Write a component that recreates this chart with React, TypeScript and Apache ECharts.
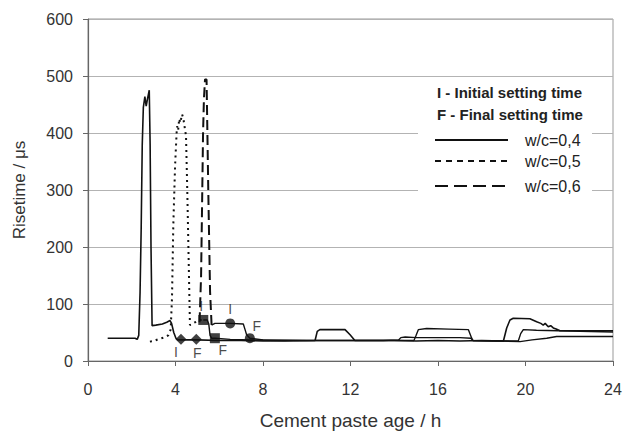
import React, { useEffect, useRef } from "react";
import * as echarts from "echarts";

// Risetime (µs) vs cement paste age (h)
const wc04: number[][] = [
  [0.9, 40], [1.5, 40], [2.15, 40], [2.25, 38], [2.32, 45], [2.38, 120], [2.43, 230], [2.48, 380],
  [2.53, 445], [2.6, 464], [2.66, 447], [2.72, 460], [2.8, 475], [2.84, 380], [2.88, 200], [2.93, 62],
  [3.1, 63], [3.4, 65], [3.6, 68], [3.75, 71], [3.82, 66], [3.92, 50], [4.02, 40], [4.1, 37],
  [4.5, 37], [5.0, 37], [6, 36], [7, 36], [8, 35], [9, 35], [10.38, 36], [10.48, 52], [10.6, 55],
  [11.75, 55], [11.98, 46], [12.2, 36], [13, 36], [14, 36], [15, 35], [16, 36], [17, 35], [18, 36],
  [18.99, 35], [19.14, 58], [19.29, 72], [19.44, 75], [20.2, 74], [20.51, 69], [20.7, 66], [20.81, 63],
  [20.9, 66], [21.04, 60], [21.15, 62], [21.27, 58], [21.4, 56], [21.58, 53], [21.88, 53], [24, 53],
];
const wc05Peak: number[][] = [
  [2.83, 34], [3.0, 35], [3.2, 38], [3.45, 41], [3.67, 45], [3.78, 55], [3.84, 110], [3.9, 238],
  [3.98, 342], [4.05, 400], [4.08, 412], [4.12, 405], [4.17, 425], [4.22, 418], [4.3, 433], [4.36, 425],
  [4.42, 410], [4.48, 395], [4.54, 296], [4.6, 180], [4.66, 63], [4.8, 66], [4.95, 69], [5.1, 72], [5.27, 72],
];
const wc05Tail: number[][] = [
  [5.27, 72], [5.45, 72], [5.52, 65], [5.58, 45], [5.65, 40], [5.8, 40], [6.5, 38], [7.5, 37], [9, 36],
  [12, 36], [13.5, 36], [14.2, 37], [14.3, 41], [14.5, 42], [15, 41], [16, 41], [17, 41], [17.5, 40],
  [17.6, 36], [18.5, 35], [19.67, 35], [19.78, 48], [19.9, 55], [20.5, 54], [21.5, 53], [24, 51],
];
const wc06Peak: number[][] = [
  [5.1, 68], [5.17, 150], [5.21, 260], [5.26, 400], [5.3, 460], [5.35, 494], [5.42, 494], [5.5, 296],
  [5.58, 122], [5.65, 63],
];
const wc06Tail: number[][] = [
  [5.65, 63], [5.8, 66], [6.5, 66], [7.1, 65], [7.18, 55], [7.25, 46], [7.4, 40], [8, 37], [10, 36],
  [13, 36], [14.9, 36], [15.0, 45], [15.1, 55], [15.48, 57], [16.5, 56], [17.39, 55], [17.54, 40],
  [17.6, 36], [19.0, 35], [19.75, 34], [20.3, 37], [20.97, 40], [21.42, 43], [24, 43],
];
// setting-time markers: [age, risetime], label
const diamondMarks = [{ name: "I", value: [4.25, 38] }, { name: "F", value: [4.95, 38] }];
const squareMarks = [{ name: "I", value: [5.27, 72] }, { name: "F", value: [5.8, 40] }];
const circleMarks = [{ name: "I", value: [6.5, 66] }, { name: "F", value: [7.4, 40] }];
const diamondOffsets = [[-5, 13], [1, 14]];
const squareOffsets = [[-2, -14], [8, 12]];
const circleOffsets = [[0, -14], [7, -12]];

const legendLabels = ["w/c=0,4", "w/c=0,5", "w/c=0,6"];
const xTitle = "Cement paste age / h";
const yTitle = "Risetime / \u03bcs";

const FONT = "'Liberation Sans', Arial, sans-serif";
const INK = "#111";

function marks(data: { name: string; value: number[] }[], offs: number[][], symbol: string, size: number) {
  return {
    type: "scatter",
    symbol,
    symbolSize: size,
    itemStyle: { color: INK },
    z: 5,
    label: {
      show: true, position: "inside", formatter: "{b}", color: "#1a1a1a",
      fontSize: 14, fontFamily: FONT, textBorderWidth: 0,
    },
    emphasis: { disabled: true },
    data: data.map((d, i) => ({ ...d, label: { offset: offs[i] } })),
  };
}

export default function App() {
  const ref = useRef<HTMLDivElement>(null);
  useEffect(() => {
    document.body.style.margin = "0";
    if (!ref.current) return;
    const chart = echarts.init(ref.current, null, { renderer: "svg" });
    const lx1 = 435, lx2 = 508, ltx = 525;
    const ly = [140, 161, 186];
    chart.setOption({
      animation: false,
      backgroundColor: "#fff",
      grid: { left: 88, right: 12, top: 19, bottom: 72, show: true, borderColor: "#999", borderWidth: 1 },
      xAxis: {
        type: "value", min: 0, max: 24, interval: 4,
        name: xTitle, nameLocation: "middle", nameGap: 50,
        nameTextStyle: { fontSize: 19, color: "#333", fontFamily: FONT },
        axisLine: { lineStyle: { color: "#666", width: 1.2 } },
        axisTick: { show: true, length: 5, lineStyle: { color: "#666" } },
        axisLabel: { fontSize: 16, color: "#333", margin: 20, fontFamily: FONT },
        splitLine: { show: false },
      },
      yAxis: {
        type: "value", min: 0, max: 600, interval: 100,
        name: yTitle, nameLocation: "middle", nameGap: 60,
        nameTextStyle: { fontSize: 17, color: "#333", fontFamily: FONT },
        axisLine: { show: true, lineStyle: { color: "#666", width: 1.2 } },
        axisTick: { show: true, length: 5, lineStyle: { color: "#666" } },
        axisLabel: { fontSize: 16, color: "#333", margin: 15, fontFamily: FONT },
        splitLine: { show: true, lineStyle: { color: "#b3b3b3", width: 1 } },
      },
      series: [
        { name: legendLabels[0], type: "line", data: wc04, showSymbol: false, symbol: "none", lineStyle: { color: INK, width: 1.6 }, z: 3 },
        { name: legendLabels[1], type: "line", data: wc05Peak, showSymbol: false, symbol: "none", lineStyle: { color: INK, width: 2, type: [2, 4] }, z: 3 },
        { name: legendLabels[1] + " ", type: "line", data: wc05Tail, showSymbol: false, symbol: "none", lineStyle: { color: INK, width: 1.4 }, z: 3 },
        { name: legendLabels[2], type: "line", data: wc06Peak, showSymbol: false, symbol: "none", lineStyle: { color: INK, width: 2, type: [10, 5] }, z: 3 },
        { name: legendLabels[2] + " ", type: "line", data: wc06Tail, showSymbol: false, symbol: "none", lineStyle: { color: INK, width: 1.4 }, z: 3 },
        marks(diamondMarks, diamondOffsets, "diamond", 11),
        marks(squareMarks, squareOffsets, "rect", 10),
        marks(circleMarks, circleOffsets, "circle", 10),
      ],
      graphic: [
        { type: "rect", z: 50, shape: { x: 418, y: 80, width: 174, height: 117 }, style: { fill: "#fff" } },
        { type: "text", z: 51, x: 437, y: 92, style: { text: "I - Initial setting time", fontSize: 15, fontWeight: "bold", fill: "#222", fontFamily: FONT, verticalAlign: "middle" } },
        { type: "text", z: 51, x: 437, y: 114, style: { text: "F - Final setting time", fontSize: 15, fontWeight: "bold", fill: "#222", fontFamily: FONT, verticalAlign: "middle" } },
        { type: "line", z: 51, shape: { x1: lx1, y1: ly[0], x2: lx2, y2: ly[0] }, style: { stroke: INK, lineWidth: 2 } },
        { type: "line", z: 51, shape: { x1: lx1, y1: ly[1], x2: lx2, y2: ly[1] }, style: { stroke: INK, lineWidth: 2, lineDash: [6, 5] } },
        { type: "line", z: 51, shape: { x1: lx1, y1: ly[2], x2: lx2, y2: ly[2] }, style: { stroke: INK, lineWidth: 2, lineDash: [13, 6] } },
        ...legendLabels.map((t, i) => ({
          type: "text", z: 51, x: ltx, y: ly[i],
          style: { text: t, fontSize: 16, fill: "#222", fontFamily: FONT, verticalAlign: "middle" },
        })),
      ],
    });
    return () => chart.dispose();
  }, []);
  return <div ref={ref} style={{ width: 625, height: 435 }} />;
}
